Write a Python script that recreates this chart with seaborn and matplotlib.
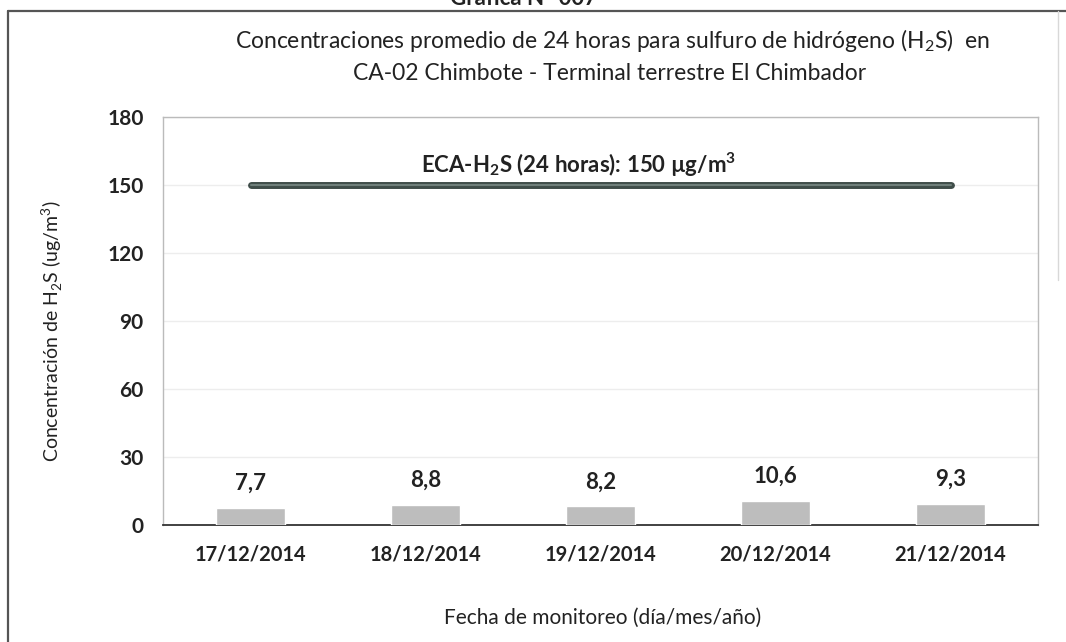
import numpy as np
import matplotlib
matplotlib.use("Agg")
import matplotlib.pyplot as plt
import seaborn as sns
from matplotlib.lines import Line2D

sns.set_style("white")
plt.rcParams["font.family"] = ["Lato", "DejaVu Sans"]
plt.rcParams["mathtext.fontset"] = "custom"
plt.rcParams["mathtext.rm"] = "Lato"
plt.rcParams["mathtext.bf"] = "Lato:bold"

fechas = ["17/12/2014", "18/12/2014", "19/12/2014", "20/12/2014", "21/12/2014"]
h2s = [7.7, 8.8, 8.2, 10.6, 9.3]
eca = [150, 150, 150, 150, 150]
etiquetas = ["7,7", "8,8", "8,2", "10,6", "9,3"]
yticks = [0, 30, 60, 90, 120, 150, 180]

W, H = 1066, 642
fig = plt.figure(figsize=(W / 100, H / 100), dpi=100)
ax = fig.add_axes([163 / W, (H - 525) / H, (1038 - 163) / W, (525 - 117) / H])

sns.barplot(x=fechas, y=h2s, color="#bdbdbd", width=0.39, saturation=1, ax=ax, zorder=3)

pos = np.arange(len(fechas))
ax.plot(pos, eca, color="#3f4d49", lw=5, solid_capstyle="round", zorder=4)
ax.plot(pos, eca, color="#6f7f7a", lw=1.5, solid_capstyle="round", zorder=5)

for p, v, t in zip(pos, h2s, etiquetas):
    ax.annotate(t, (p, v), xytext=(0, 10), textcoords="offset points",
                ha="center", va="bottom", fontsize=16, fontweight="bold", color="#222222")

ax.text(1.877, 159, r"ECA-H$_\mathbf{2}$S (24 horas): 150 µg/m$^\mathbf{3}$",
        ha="center", va="center", fontsize=16, fontweight="bold", color="#222222")

ax.set_ylim(0, 180)
ax.set_xlim(-0.5, len(fechas) - 0.5)
ax.set_yticks(yticks)
ax.set_yticklabels([str(v) for v in yticks], fontsize=15, fontweight="bold", color="#222222")
ax.set_xticks(np.arange(-0.5, len(fechas)), minor=True)
ax.set_xticks(pos)
ax.set_xticklabels(fechas, fontsize=14.5, fontweight="bold", color="#222222")
ax.tick_params(axis="x", which="major", length=0, pad=14)
ax.tick_params(axis="x", which="minor", length=5, width=1, color="#333333", direction="out")
ax.tick_params(axis="y", length=0, pad=14)

ax.grid(axis="y", color="#ededed", lw=1, zorder=0)
for s in ["left", "top", "right"]:
    ax.spines[s].set_color("#bbbbbb")
    ax.spines[s].set_linewidth(1)
ax.spines["bottom"].set_color("#333333")
ax.spines["bottom"].set_linewidth(1.3)

ax.set_ylabel(r"Concentración de H$_2$S (ug/m$^3$)", fontsize=14, color="#222222")
ax.set_xlabel("Fecha de monitoreo (día/mes/año)", fontsize=15, color="#222222")
ax.yaxis.set_label_coords(-0.112, 0.475)
ax.xaxis.set_label_coords(0.502, -0.203)

fig.text(612 / W, 1 - 40 / H,
         "Concentraciones promedio de 24 horas para sulfuro de hidrógeno (H$_2$S)  en",
         ha="center", va="center", fontsize=16.5, color="#222222")
fig.text(610 / W, 1 - 73 / H, "CA-02 Chimbote - Terminal terrestre El Chimbador",
         ha="center", va="center", fontsize=16.5, color="#222222")
fig.text(523 / W, 1 + 2 / H, "Gráfica N° 007", ha="center", va="center",
         fontsize=16, fontweight="bold", color="#222222")

fig.add_artist(Line2D([8 / W, 8 / W], [-0.05, 1 - 11 / H], color="#555555", lw=1.6))
fig.add_artist(Line2D([8 / W, 1.05], [1 - 11 / H, 1 - 11 / H], color="#555555", lw=1.6))
fig.add_artist(Line2D([1058 / W, 1058 / W], [1 - 280 / H, 1 - 11 / H], color="#d8d8d8", lw=1))

fig.savefig("out.png", dpi=100)
